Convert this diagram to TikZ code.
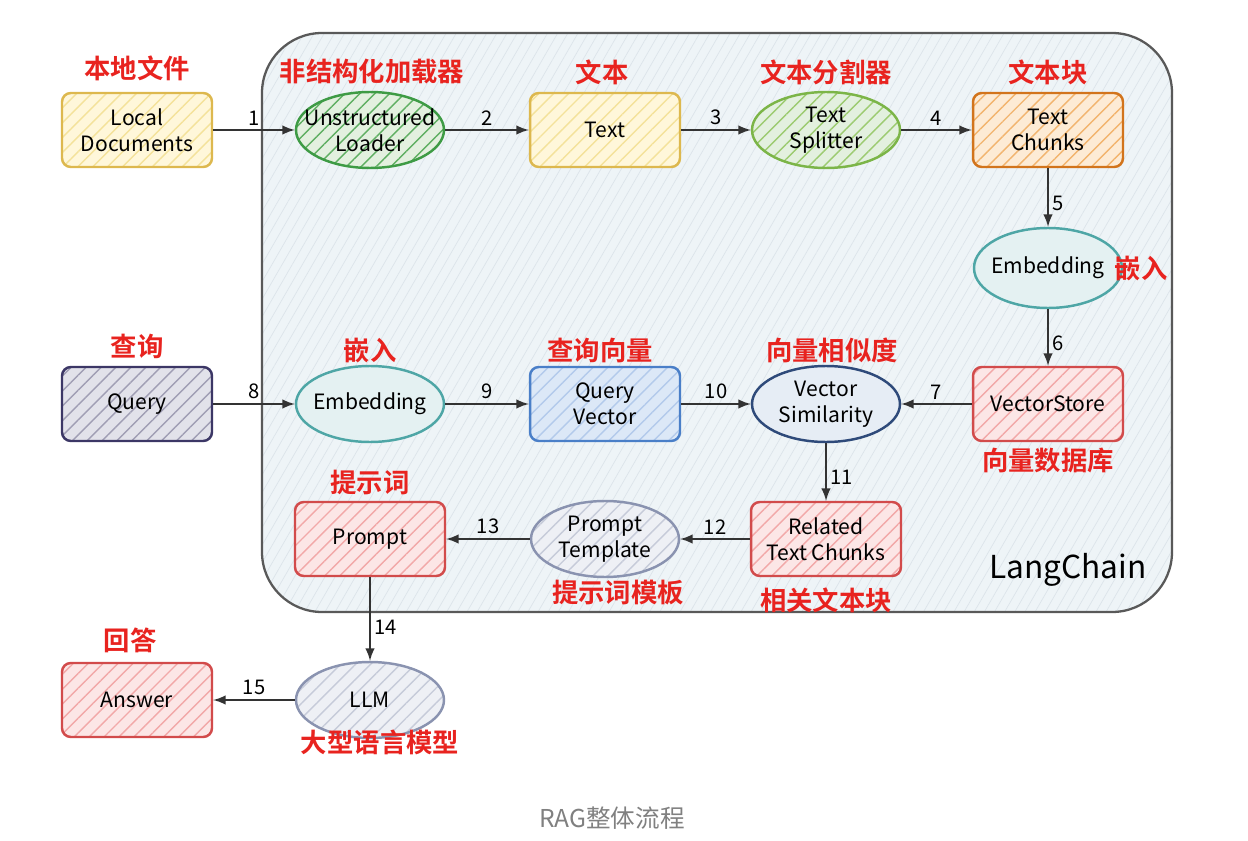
\documentclass[tikz,border=0pt]{standalone}
\usepackage{fontspec}
\setmainfont{Noto Sans CJK SC}[BoldFont={Noto Sans CJK SC Bold}]
\usetikzlibrary{shapes.geometric,patterns.meta}

\definecolor{cnred}{HTML}{E8231F}
\definecolor{ydraw}{HTML}{DDB84E}
\definecolor{yfill}{HTML}{FFF7DA}
\definecolor{yline}{HTML}{F4E29A}
\definecolor{gdraw}{HTML}{3E9B45}
\definecolor{gfill}{HTML}{E3F0DF}
\definecolor{gline}{HTML}{5FAF62}
\definecolor{lgdraw}{HTML}{7CB548}
\definecolor{lgline}{HTML}{9CCB70}
\definecolor{odraw}{HTML}{D2741C}
\definecolor{ofill}{HTML}{FDEBD5}
\definecolor{oline}{HTML}{F2B46E}
\definecolor{rdraw}{HTML}{D24B4B}
\definecolor{rfill}{HTML}{FCE6E6}
\definecolor{rline}{HTML}{F2A8A8}
\definecolor{tdraw}{HTML}{4EA6A6}
\definecolor{tfill}{HTML}{E4F1F2}
\definecolor{pdraw}{HTML}{3C3766}
\definecolor{pfill}{HTML}{E2E2EA}
\definecolor{pline}{HTML}{A09EB4}
\definecolor{bdraw}{HTML}{4A7FC8}
\definecolor{bfill}{HTML}{DCE8F7}
\definecolor{bline}{HTML}{B3CAEB}
\definecolor{sdraw}{HTML}{2E4A7A}
\definecolor{sfill}{HTML}{E6EDF5}
\definecolor{gydraw}{HTML}{8A93B0}
\definecolor{gyfill}{HTML}{EEF0F5}
\definecolor{gyline}{HTML}{C6CBD9}
\definecolor{chfill}{HTML}{EEF4F7}
\definecolor{chline}{HTML}{DCE4EA}

\begin{document}
\begin{tikzpicture}[x=0.02cm,y=-0.02cm,
	box/.style={draw,rounded corners=5pt,line width=1.4pt,minimum width=3cm,minimum height=1.48cm,align=center,font=\fontsize{12}{15}\selectfont},
	oval/.style={ellipse,draw,line width=1.4pt,minimum width=2.96cm,minimum height=1.52cm,inner xsep=-8pt,inner ysep=0pt,align=center,font=\fontsize{12}{15}\selectfont},
	hatch/.style 2 args={preaction={fill=#1},pattern={Lines[angle=45,distance=6pt,line width=0.8pt]},pattern color=#2},
	cn/.style={text=cnred,font=\fontsize{15}{18}\selectfont\bfseries},
	num/.style={font=\fontsize{11.5}{13}\selectfont,inner sep=2pt},
	arw/.style={-latex,line width=1.4pt,draw=black!80}]

	\useasboundingbox (0,0) rectangle (1248,841);

	% LangChain frame
	\draw[line width=1.3pt,draw=black!65,rounded corners=1.2cm,preaction={fill=chfill},pattern={Lines[angle=60,distance=5pt,line width=0.4pt]},pattern color=chline] (262,33) rectangle (1172,612);
	\node[font=\fontsize{18}{20}\selectfont] (lc) at (1068,570) {LangChain};

	% first row
	\node[box,draw=ydraw,hatch={yfill}{yline}] (ld) at (137,130) {Local\\Documents};
	\node[oval,draw=gdraw,hatch={gfill}{gline}] (ul) at (370,130) {Unstructured\\Loader};
	\node[box,draw=ydraw,hatch={yfill}{yline}] (tx) at (605,130) {Text};
	\node[oval,draw=lgdraw,hatch={gfill}{lgline}] (ts) at (826,130) {Text\\Splitter};
	\node[box,draw=odraw,hatch={ofill}{oline}] (tc) at (1048,130) {Text\\Chunks};
	\node[oval,draw=tdraw,fill=tfill,minimum height=1.6cm] (emb) at (1048,268) {Embedding};

	% second row
	\node[box,draw=pdraw,hatch={pfill}{pline}] (qr) at (137,404) {Query};
	\node[oval,draw=tdraw,fill=tfill] (em) at (370,404) {Embedding};
	\node[box,draw=bdraw,hatch={bfill}{bline}] (qv) at (605,404) {Query\\Vector};
	\node[oval,draw=sdraw,fill=sfill] (sim) at (826,404) {Vector\\Similarity};
	\node[box,draw=rdraw,hatch={rfill}{rline}] (vs) at (1048,404) {VectorStore};

	% third row
	\node[box,draw=rdraw,hatch={rfill}{rline}] (pr) at (370,539) {Prompt};
	\node[oval,draw=gydraw,hatch={gyfill}{gyline}] (pt) at (605,539) {Prompt\\Template};
	\node[box,draw=rdraw,hatch={rfill}{rline}] (rc) at (826,539) {Related\\Text Chunks};

	% outside
	\node[box,draw=rdraw,hatch={rfill}{rline}] (ans) at (137,700) {Answer};
	\node[oval,draw=gydraw,hatch={gyfill}{gyline}] (llm) at (370,700) {LLM};

	% red names
	\node[cn] (ld-cn) at (137,68) {本地文件};
	\node[cn] (ul-cn) at (372,72) {非结构化加载器};
	\node[cn] (tx-cn) at (602,72) {文本};
	\node[cn] (ts-cn) at (826,72) {文本分割器};
	\node[cn] (tc-cn) at (1048,72) {文本块};
	\node[cn] (emb-cn) at (1141,268) {嵌入};
	\node[cn] (qr-cn) at (137,346) {查询};
	\node[cn] (em-cn) at (370,350) {嵌入};
	\node[cn] (qv-cn) at (600,350) {查询向量};
	\node[cn] (sim-cn) at (832,350) {向量相似度};
	\node[cn] (vs-cn) at (1048,460) {向量数据库};
	\node[cn] (pr-cn) at (370,482) {提示词};
	\node[cn] (pt-cn) at (618,593) {提示词模板};
	\node[cn] (rc-cn) at (826,600) {相关文本块};
	\node[cn] (ans-cn) at (130,640) {回答};
	\node[cn] (llm-cn) at (380,742) {大型语言模型};

	\node[text=black!50,font=\fontsize{14}{16}\selectfont] (cap) at (612,818) {RAG整体流程};

	% steps
	\foreach \s/\t/\n in {ld/ul/1,ul/tx/2,tx/ts/3,ts/tc/4,vs/sim/7,qr/em/8,em/qv/9,qv/sim/10,rc/pt/12,pt/pr/13,llm/ans/15}
		\draw[arw] (\s) -- node[num,above] {\n} (\t);
	\foreach \s/\t/\n in {tc/emb/5,emb/vs/6,sim/rc/11,pr/llm/14}
		\draw[arw] (\s) -- node[num,right,pos=0.6] {\n} (\t);
\end{tikzpicture}
\end{document}
